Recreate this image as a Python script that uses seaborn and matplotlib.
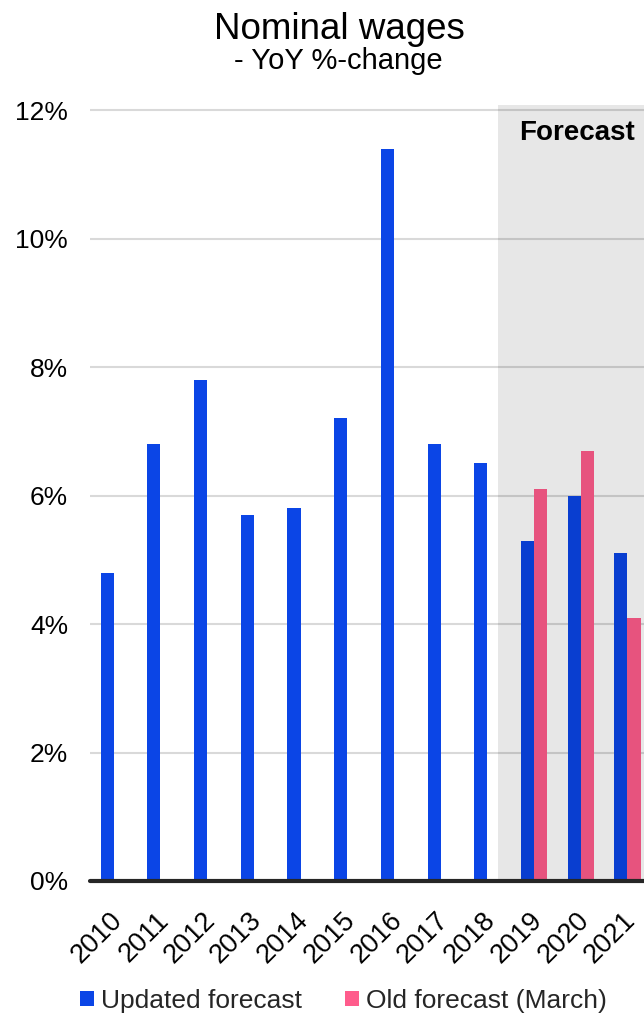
import matplotlib
matplotlib.use("Agg")
import matplotlib.pyplot as plt
from matplotlib.patches import Patch
from matplotlib.transforms import ScaledTranslation
import seaborn as sns
import pandas as pd
import numpy as np

# Nominal wage growth, year-on-year in percent
years = ["2010", "2011", "2012", "2013", "2014", "2015", "2016",
         "2017", "2018", "2019", "2020", "2021"]
updated_forecast = [4.8, 6.8, 7.8, 5.7, 5.8, 7.2, 11.4, 6.8, 6.5, 5.3, 6.0, 5.1]
old_forecast = [np.nan] * 9 + [6.1, 6.7, 4.1]
series_names = ["Updated forecast", "Old forecast (March)"]
y_ticks = [0, 2, 4, 6, 8, 10, 12]
forecast_label = "Forecast"

blue = "#0b45e6"
pink = "#ff5c8c"

df = pd.DataFrame({
    "year": years * 2,
    "series": [series_names[0]] * len(years) + [series_names[1]] * len(years),
    "value": updated_forecast + old_forecast,
})

sns.set_theme(style="white")
plt.rcParams["font.family"] = ["Liberation Sans", "DejaVu Sans"]

fig = plt.figure(figsize=(6.44, 10.14), dpi=100)
W, H = 644, 1014
left_px, right_px = 90.4, 650.8
top_px, bottom_px = 105, 881
ax = fig.add_axes([left_px / W, 1 - bottom_px / H,
                   (right_px - left_px) / W, (bottom_px - top_px) / H])

sns.barplot(data=df, x="year", y="value", hue="series", hue_order=series_names,
            order=years, palette=[blue, pink], width=0.56, linewidth=0,
            saturation=1, errorbar=None, legend=False, ax=ax, zorder=2)

ax.set_xlim(-0.5, 11.5)
ax.set_ylim(0, 12.08)
ax.set_yticks(y_ticks)
ax.set_yticklabels([f"{t}%" for t in y_ticks])
ax.yaxis.grid(True, color="#d9d9d9", linewidth=1.5)
ax.xaxis.grid(False)
ax.set_axisbelow(True)
for s in ax.spines.values():
    s.set_visible(False)
ax.set_xlabel("")
ax.set_ylabel("")
ax.tick_params(axis="y", length=0, pad=16, labelsize=19, labelcolor="black")
ax.tick_params(axis="x", length=0, pad=19, labelsize=19.5, labelcolor="black")
shift = ScaledTranslation(-5 / 100, 0, fig.dpi_scale_trans)
for lbl in ax.get_xticklabels():
    lbl.set_rotation(45)
    lbl.set_ha("right")
    lbl.set_va("top")
    lbl.set_rotation_mode("anchor")
    lbl.set_transform(lbl.get_transform() + shift)

# forecast period shading drawn over the bars
ax.axvspan(8.23, 12.5, color="black", alpha=0.095, linewidth=0, zorder=3)
ax.text(9.92, 11.64, forecast_label, ha="center", va="center",
        fontsize=20, fontweight="bold", color="black", zorder=4)

# baseline
ax.axhline(0, color="#262626", linewidth=3, zorder=5, clip_on=False)

# titles
fig.text(339 / W, 1 - 39 / H, "Nominal wages", ha="center", va="baseline",
         fontsize=26.5, color="black")
fig.text(338 / W, 1 - 69 / H, "- YoY %-change", ha="center", va="baseline",
         fontsize=21, color="black")

handles = [Patch(facecolor=blue, edgecolor="none"),
           Patch(facecolor=pink, edgecolor="none")]
fig.legend(handles, series_names, loc="center left",
           bbox_to_anchor=(80 / W, 1 - 1001 / H), ncol=2, frameon=False,
           fontsize=19, handlelength=0.53, handleheight=0.53,
           handletextpad=0.25, columnspacing=1.65, borderpad=0,
           borderaxespad=0)

fig.savefig("out.png", dpi=100)
